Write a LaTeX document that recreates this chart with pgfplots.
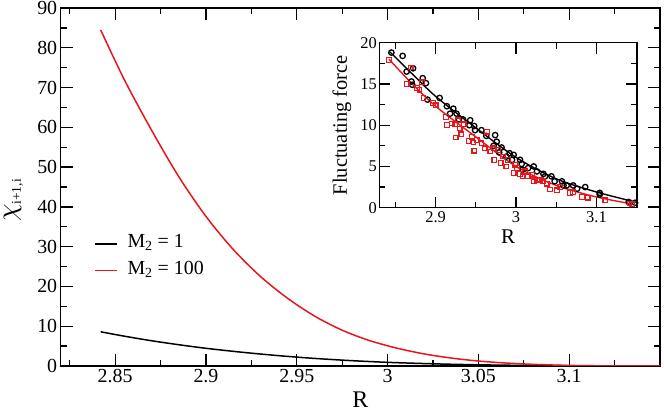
\documentclass[border=0pt]{standalone}
\usepackage{fontspec}
\setmainfont{Liberation Serif}
\usepackage{graphicx}
\usepackage{pgfplots}
\pgfplotsset{compat=1.18}
\definecolor{myred}{RGB}{232,22,28}
\begin{document}
\begin{tikzpicture}
\begin{axis}[
  at={(0,0)}, anchor=south west,
  scale only axis, width=599.3bp, height=358bp,
  xmin=2.82, xmax=3.15, ymin=0, ymax=90,
  xtick={2.85,2.9,2.95,3,3.05,3.1},
  xticklabels={2.85,2.9,2.95,3,3.05,3.1},
  minor xtick={2.825,2.875,2.925,2.975,3.025,3.075,3.125},
  ytick={0,10,20,30,40,50,60,70,80,90},
  yticklabels={0,10,20,30,40,50,60,70,80,90},
  minor ytick={5,15,25,35,45,55,65,75,85},
  tick align=inside,
  major tick length=12bp, minor tick length=6bp,
  every tick/.style={black, line width=1.3bp},
  axis line style={line width=1.6bp},
  tick label style={font=\fontsize{20}{24}\selectfont},
  /pgf/number format/assume math mode=true,
  xlabel={R},
  xlabel style={at={(axis description cs:0.5,0)}, anchor=base, yshift=-41bp, font=\fontsize{24}{28}\selectfont},
  ylabel={\scalebox{2.8}{$\chi$}\raisebox{-5bp}{\fontsize{13.5}{16}\selectfont i+1,i}},
  ylabel style={at={(axis description cs:-0.0750,0.4623)}, anchor=base, inner sep=0pt, outer sep=0pt},
  legend style={draw=none, fill=none, inner sep=0pt, outer sep=0pt,
    at={(0.0556,0.3723)}, anchor=north west,
    nodes={inner sep=0pt, anchor=base west, text height=15bp, text depth=6bp, font=\fontsize{20}{24}\selectfont},
    row sep=5.6bp,
    /tikz/every odd column/.append style={column sep=10bp}},
  legend image code/.code={\draw[#1] (0bp,3.7bp) -- (22bp,3.7bp);},
]
\addplot[black, line width=1.5bp, smooth] coordinates {
(2.842,8.6) (2.855,7.5) (2.87,6.35) (2.885,5.35) (2.9,4.45) (2.92,3.45) (2.94,2.6)
(2.96,1.9) (2.98,1.35) (3.0,0.92) (3.025,0.55) (3.05,0.3) (3.075,0.15) (3.1,0.06)
(3.125,0.02) (3.15,0.0)};
\addlegendentry{M\textsubscript{2} = 1}
\addplot[myred, line width=1.5bp, smooth] coordinates {
(2.842,84.5) (2.855,72.0) (2.87,59.3) (2.885,47.6) (2.9,37.6) (2.915,29.3) (2.93,22.5)
(2.945,17.0) (2.96,12.5) (2.975,9.0) (2.99,6.4) (3.005,4.5) (3.02,3.05) (3.035,2.0)
(3.05,1.25) (3.065,0.75) (3.08,0.42) (3.095,0.2) (3.11,0.08) (3.13,0.02) (3.15,0.0)};
\addlegendentry{M\textsubscript{2} = 100}
\end{axis}
\begin{axis}[
  at={(318.6bp,158.3bp)}, anchor=south west,
  scale only axis, width=257.4bp, height=165bp,
  axis background/.style={fill=white},
  xmin=2.83, xmax=3.15, ymin=0, ymax=20,
  xtick={2.9,3,3.1}, xticklabels={2.9,3,3.1},
  minor xtick={2.85,2.95,3.05},
  ytick={0,5,10,15,20}, yticklabels={0,5,10,15,20},
  minor ytick={2.5,7.5,12.5,17.5},
  tick align=inside,
  major tick length=11bp, minor tick length=6bp,
  every tick/.style={black, line width=1.3bp},
  axis line style={line width=1.6bp},
  tick label style={font=\fontsize{16.5}{20}\selectfont},
  yticklabel style={xshift=1bp},
  /pgf/number format/assume math mode=true,
  xlabel={R},
  xlabel style={at={(axis description cs:0.5,0)}, anchor=base, yshift=-36bp, font=\fontsize{21}{24}\selectfont},
  ylabel={Fluctuating force},
  ylabel style={at={(axis description cs:-0.1255,0.5)}, anchor=base, font=\fontsize{20.5}{24}\selectfont},
]
\addplot[black, line width=1.4bp, smooth] coordinates {
(2.843,18.9) (2.87,16.3) (2.9,13.5) (2.947,9.9) (3.0,6.1) (3.05,3.5) (3.1,1.9) (3.15,0.65)};
\addplot[myred, line width=1.4bp, smooth] coordinates {
(2.842,18.0) (2.87,15.1) (2.9,12.3) (2.947,8.8) (3.0,5.0) (3.05,2.7) (3.1,1.3) (3.145,0.45)};
\addplot[only marks, mark=o, mark size=2.7bp, black, mark options={line width=1.3bp}] coordinates {
(2.845,18.8) (2.859,18.4) (2.864,16.5) (2.872,16.9) (2.870,15.3) (2.871,14.9) (2.884,15.7)
(2.888,15.1) (2.890,13.1) (2.905,13.3) (2.914,12.3) (2.922,12.0) (2.918,11.4) (2.926,11.4)
(2.929,10.7) (2.934,10.7) (2.943,10.6) (2.942,10.0) (2.948,9.9) (2.949,9.4) (2.957,9.4)
(2.963,8.7) (2.974,8.8) (2.976,8.0) (2.972,7.5) (2.982,7.3) (2.979,6.7) (2.988,6.2)
(2.992,6.6) (2.997,6.4) (2.995,5.8) (3.005,5.8) (3.007,5.3) (3.008,4.6) (3.015,4.8)
(3.022,5.0) (3.026,4.4) (3.034,4.1) (3.036,3.8) (3.044,3.8) (3.048,3.2) (3.057,3.2)
(3.059,2.7) (3.063,2.7) (3.071,2.7) (3.076,2.3) (3.086,2.5) (3.104,1.8) (3.104,1.6)
(3.140,0.7) (3.148,0.6)};
\addplot[only marks, mark=square, mark size=2.3bp, myred, mark options={line width=1.2bp}] coordinates {
(2.842,17.9) (2.869,17.0) (2.864,15.0) (2.877,14.5) (2.880,14.3) (2.883,15.2) (2.885,13.3)
(2.897,12.7) (2.900,12.4) (2.913,11.0) (2.914,10.0) (2.920,10.2) (2.924,10.1) (2.928,10.6)
(2.925,8.5) (2.930,9.6) (2.932,8.9) (2.935,10.1) (2.941,8.1) (2.945,8.6) (2.947,7.9)
(2.948,6.9) (2.951,8.2) (2.957,7.8) (2.964,9.2) (2.961,7.2) (2.968,6.8) (2.972,7.2)
(2.973,5.8) (2.978,7.0) (2.981,5.4) (2.984,6.2) (2.988,5.0) (2.990,5.8) (2.997,4.2)
(2.999,5.2) (3.001,4.8) (3.005,4.1) (3.008,3.8) (3.011,4.4) (3.015,3.8) (3.020,4.0)
(3.022,3.2) (3.026,3.4) (3.030,3.4) (3.034,3.2) (3.038,2.9) (3.042,2.2) (3.051,2.1)
(3.055,2.5) (3.067,1.8) (3.071,1.9) (3.082,1.3) (3.089,1.2) (3.111,0.9) (3.141,0.5)
(3.144,0.4)};
\end{axis}
\pgfresetboundingbox
\path[use as bounding box] (-60.7bp,-46bp) rectangle (603.3bp,366bp);
\end{tikzpicture}
\end{document}
